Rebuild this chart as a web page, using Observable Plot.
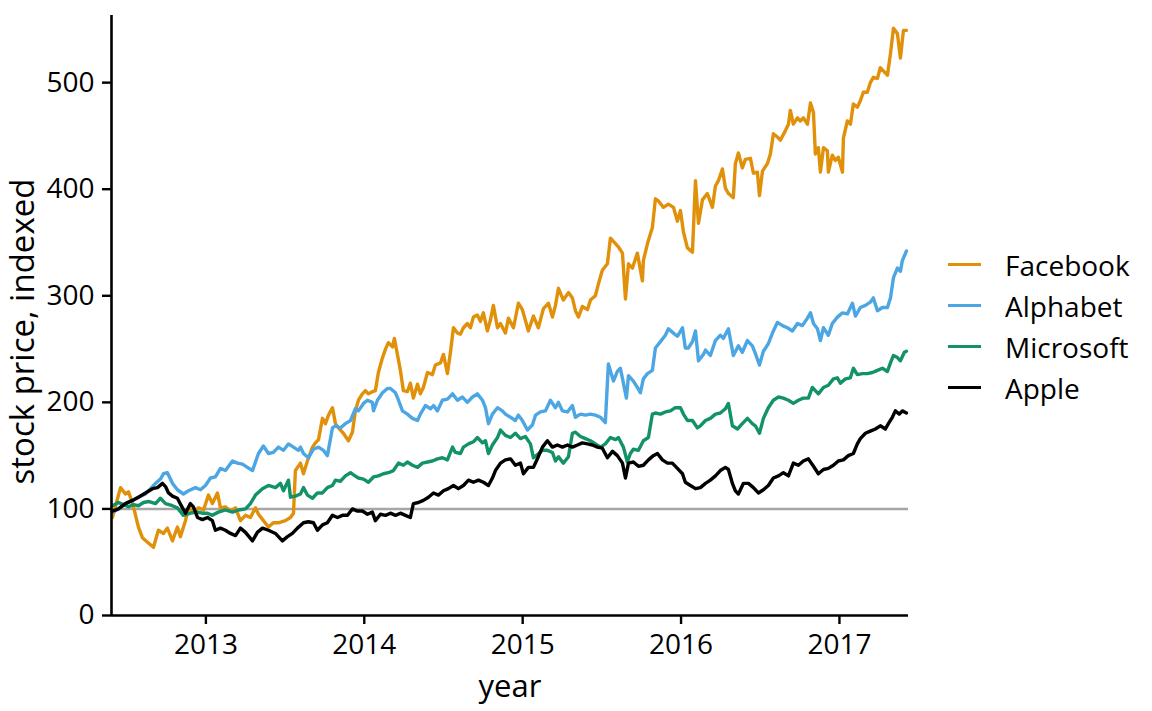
<!DOCTYPE html>
<html><head><meta charset="utf-8">
<script src="https://cdn.jsdelivr.net/npm/d3@7"></script>
<script src="https://cdn.jsdelivr.net/npm/@observablehq/plot@0.6"></script>
<style>
body{margin:0;background:#fff;}
#wrap{position:relative;width:1152px;height:711px;font-family:'Open Sans',sans-serif;background:#fff;}
#chart{position:absolute;left:0;top:0;}
#legend{position:absolute;left:948px;top:244px;}
.row{display:flex;align-items:center;height:41px;font-size:28px;color:#000;}
.sw{width:33px;height:3px;margin-right:24px;}
</style></head><body><div id="wrap"><div id="chart"></div><div id="legend"></div></div>
<script>
// categories and styling lookups
const companies = ["Facebook", "Alphabet", "Microsoft", "Apple"];
const colors = ["#E1900A", "#4CA6E3", "#13926A", "#000000"];
const xTicks = [2013, 2014, 2015, 2016, 2017];
const yTicks = [0, 100, 200, 300, 400, 500];
const xDomain = [2012.404, 2017.436];
const yDomain = [0, 563];
const indexBase = 100;

// series values: [decimal year, indexed price]
const facebook = [[2012.410,92],[2012.461,120],[2012.492,114],[2012.511,116],[2012.536,106],[2012.574,83],[2012.599,73],[2012.637,68],[2012.669,64],[2012.700,80],[2012.732,77],[2012.757,82],[2012.789,70],[2012.820,83],[2012.839,74],[2012.871,89],[2012.890,101],[2012.921,97],[2012.953,101],[2012.985,99],[2013.016,113],[2013.041,105],[2013.073,115],[2013.092,101],[2013.123,102],[2013.155,98],[2013.187,101],[2013.218,89],[2013.250,94],[2013.281,92],[2013.313,101],[2013.332,95],[2013.363,89],[2013.395,83],[2013.426,87],[2013.458,87],[2013.502,89],[2013.534,92],[2013.553,96],[2013.565,136],[2013.584,140],[2013.597,143],[2013.616,133],[2013.641,145],[2013.673,158],[2013.692,162],[2013.711,165],[2013.736,185],[2013.755,180],[2013.774,188],[2013.799,195],[2013.818,180],[2013.837,176],[2013.868,171],[2013.900,164],[2013.925,172],[2013.944,192],[2013.963,202],[2013.988,208],[2014.007,211],[2014.026,208],[2014.051,210],[2014.070,211],[2014.089,228],[2014.115,242],[2014.134,250],[2014.152,256],[2014.178,252],[2014.190,260],[2014.209,245],[2014.228,230],[2014.247,211],[2014.272,210],[2014.291,218],[2014.310,204],[2014.336,217],[2014.354,208],[2014.373,214],[2014.399,228],[2014.430,226],[2014.449,235],[2014.481,237],[2014.500,245],[2014.525,227],[2014.544,247],[2014.563,270],[2014.588,265],[2014.607,264],[2014.626,270],[2014.651,274],[2014.670,270],[2014.689,280],[2014.714,282],[2014.733,276],[2014.752,284],[2014.777,267],[2014.796,277],[2014.815,291],[2014.841,270],[2014.860,274],[2014.891,265],[2014.910,279],[2014.942,270],[2014.973,293],[2014.998,287],[2015.017,277],[2015.036,267],[2015.068,281],[2015.099,270],[2015.131,288],[2015.163,293],[2015.188,280],[2015.207,291],[2015.226,307],[2015.257,296],[2015.289,303],[2015.314,298],[2015.333,286],[2015.352,280],[2015.377,290],[2015.409,287],[2015.428,296],[2015.459,300],[2015.478,311],[2015.503,324],[2015.535,330],[2015.554,354],[2015.586,349],[2015.604,346],[2015.630,340],[2015.649,297],[2015.668,330],[2015.693,326],[2015.724,340],[2015.756,314],[2015.762,333],[2015.788,349],[2015.819,364],[2015.838,391],[2015.857,389],[2015.889,383],[2015.920,386],[2015.952,383],[2015.977,370],[2015.996,380],[2016.015,360],[2016.040,345],[2016.072,341],[2016.091,408],[2016.110,368],[2016.135,390],[2016.166,396],[2016.198,383],[2016.217,403],[2016.236,408],[2016.261,419],[2016.280,401],[2016.299,396],[2016.330,392],[2016.343,424],[2016.362,434],[2016.387,420],[2016.406,428],[2016.438,429],[2016.457,415],[2016.482,416],[2016.495,394],[2016.514,417],[2016.545,424],[2016.564,433],[2016.583,452],[2016.608,449],[2016.627,446],[2016.659,455],[2016.678,461],[2016.690,474],[2016.709,461],[2016.735,467],[2016.753,464],[2016.772,467],[2016.798,461],[2016.817,481],[2016.836,472],[2016.848,433],[2016.867,439],[2016.880,416],[2016.899,439],[2016.924,436],[2016.930,416],[2016.955,432],[2016.974,427],[2016.993,430],[2017.019,416],[2017.025,448],[2017.050,464],[2017.069,461],[2017.088,480],[2017.113,477],[2017.132,483],[2017.151,491],[2017.176,491],[2017.195,500],[2017.214,505],[2017.240,504],[2017.258,514],[2017.277,511],[2017.303,507],[2017.322,527],[2017.341,551],[2017.366,546],[2017.385,523],[2017.404,549],[2017.423,549]];

const alphabet = [[2012.410,97],[2012.448,100],[2012.492,105],[2012.536,108],[2012.574,111],[2012.618,114],[2012.637,117],[2012.682,124],[2012.713,128],[2012.732,133],[2012.757,134],[2012.789,124],[2012.820,118],[2012.858,114],[2012.890,117],[2012.934,120],[2012.966,118],[2012.997,122],[2013.029,129],[2013.060,130],[2013.092,138],[2013.123,136],[2013.168,145],[2013.199,143],[2013.231,142],[2013.262,139],[2013.294,136],[2013.332,152],[2013.363,159],[2013.395,152],[2013.426,153],[2013.458,158],[2013.490,155],[2013.521,161],[2013.553,158],[2013.584,155],[2013.597,158],[2013.616,152],[2013.647,148],[2013.679,156],[2013.711,158],[2013.742,155],[2013.767,150],[2013.799,176],[2013.818,178],[2013.849,176],[2013.881,180],[2013.913,183],[2013.944,194],[2013.963,192],[2013.995,199],[2014.020,202],[2014.051,200],[2014.058,192],[2014.083,202],[2014.115,209],[2014.146,213],[2014.165,213],[2014.197,209],[2014.216,202],[2014.241,192],[2014.272,189],[2014.304,185],[2014.336,183],[2014.354,189],[2014.386,197],[2014.418,194],[2014.437,197],[2014.462,192],[2014.493,202],[2014.525,203],[2014.557,208],[2014.588,202],[2014.620,205],[2014.651,200],[2014.683,205],[2014.714,208],[2014.746,202],[2014.765,195],[2014.784,180],[2014.809,189],[2014.841,195],[2014.872,192],[2014.891,189],[2014.923,186],[2014.954,183],[2014.973,188],[2014.998,183],[2015.030,174],[2015.062,179],[2015.081,188],[2015.112,191],[2015.144,192],[2015.175,202],[2015.207,195],[2015.226,200],[2015.251,192],[2015.283,191],[2015.314,197],[2015.333,186],[2015.365,189],[2015.396,188],[2015.428,189],[2015.459,188],[2015.491,186],[2015.522,181],[2015.541,236],[2015.573,220],[2015.598,229],[2015.617,232],[2015.636,218],[2015.655,204],[2015.668,225],[2015.699,220],[2015.724,214],[2015.743,209],[2015.762,222],[2015.788,227],[2015.819,230],[2015.838,251],[2015.870,257],[2015.901,263],[2015.920,269],[2015.952,265],[2015.977,262],[2016.009,270],[2016.027,251],[2016.046,251],[2016.072,257],[2016.091,267],[2016.110,239],[2016.141,245],[2016.154,249],[2016.185,244],[2016.217,258],[2016.248,263],[2016.267,260],[2016.299,269],[2016.330,244],[2016.362,253],[2016.387,247],[2016.419,258],[2016.450,253],[2016.469,246],[2016.495,235],[2016.520,248],[2016.551,255],[2016.577,265],[2016.608,275],[2016.640,272],[2016.671,270],[2016.703,267],[2016.735,274],[2016.766,272],[2016.798,279],[2016.817,284],[2016.836,274],[2016.861,269],[2016.880,258],[2016.899,270],[2016.930,263],[2016.955,274],[2016.987,280],[2017.019,284],[2017.050,283],[2017.082,293],[2017.101,281],[2017.132,289],[2017.164,291],[2017.195,294],[2017.214,298],[2017.240,286],[2017.271,289],[2017.303,289],[2017.322,298],[2017.341,317],[2017.366,326],[2017.385,323],[2017.397,333],[2017.423,342]];

const microsoft = [[2012.410,103],[2012.448,106],[2012.480,104],[2012.511,102],[2012.543,104],[2012.574,103],[2012.606,106],[2012.637,107],[2012.682,105],[2012.713,110],[2012.745,105],[2012.789,103],[2012.820,101],[2012.858,94],[2012.902,96],[2012.947,97],[2012.978,96],[2013.010,96],[2013.041,94],[2013.079,97],[2013.123,99],[2013.168,97],[2013.206,99],[2013.250,100],[2013.281,105],[2013.313,113],[2013.357,119],[2013.395,122],[2013.439,120],[2013.471,124],[2013.490,117],[2013.521,127],[2013.534,111],[2013.565,112],[2013.597,114],[2013.616,120],[2013.641,113],[2013.673,110],[2013.704,115],[2013.736,115],[2013.767,120],[2013.799,122],[2013.818,127],[2013.849,126],[2013.881,131],[2013.913,134],[2013.932,132],[2013.963,129],[2013.995,128],[2014.026,125],[2014.058,130],[2014.089,131],[2014.121,133],[2014.152,134],[2014.184,136],[2014.216,143],[2014.247,141],[2014.272,144],[2014.304,141],[2014.336,139],[2014.367,143],[2014.399,144],[2014.430,145],[2014.462,147],[2014.493,148],[2014.525,146],[2014.557,158],[2014.575,153],[2014.607,152],[2014.626,158],[2014.658,161],[2014.689,163],[2014.714,167],[2014.746,162],[2014.765,164],[2014.784,152],[2014.809,160],[2014.841,167],[2014.860,174],[2014.891,169],[2014.923,167],[2014.954,171],[2014.986,166],[2015.017,168],[2015.049,161],[2015.068,148],[2015.093,151],[2015.125,155],[2015.156,155],[2015.188,153],[2015.207,145],[2015.226,149],[2015.257,143],[2015.289,149],[2015.314,171],[2015.333,172],[2015.365,168],[2015.396,166],[2015.428,164],[2015.459,161],[2015.491,158],[2015.522,161],[2015.554,167],[2015.586,165],[2015.604,167],[2015.636,158],[2015.661,144],[2015.680,152],[2015.699,156],[2015.731,155],[2015.762,164],[2015.794,167],[2015.819,189],[2015.838,190],[2015.870,189],[2015.901,191],[2015.933,192],[2015.964,195],[2015.996,195],[2016.015,189],[2016.040,183],[2016.072,183],[2016.103,176],[2016.122,178],[2016.154,183],[2016.185,185],[2016.217,189],[2016.248,190],[2016.280,194],[2016.299,199],[2016.324,178],[2016.356,175],[2016.387,180],[2016.419,185],[2016.450,180],[2016.469,178],[2016.495,171],[2016.520,185],[2016.551,195],[2016.583,202],[2016.615,205],[2016.646,204],[2016.678,202],[2016.709,199],[2016.741,202],[2016.772,204],[2016.804,204],[2016.829,214],[2016.848,211],[2016.867,208],[2016.899,214],[2016.930,216],[2016.962,222],[2016.987,223],[2017.006,218],[2017.038,222],[2017.069,223],[2017.088,232],[2017.113,226],[2017.145,227],[2017.176,227],[2017.208,228],[2017.240,230],[2017.271,232],[2017.303,229],[2017.322,237],[2017.341,244],[2017.366,242],[2017.385,239],[2017.410,247],[2017.423,248]];

const apple = [[2012.410,98],[2012.448,100],[2012.492,105],[2012.536,108],[2012.574,111],[2012.618,115],[2012.663,119],[2012.694,120],[2012.726,124],[2012.745,121],[2012.764,115],[2012.789,112],[2012.820,110],[2012.852,101],[2012.871,96],[2012.902,105],[2012.921,102],[2012.947,92],[2012.978,90],[2013.010,92],[2013.041,89],[2013.060,80],[2013.092,82],[2013.123,80],[2013.155,77],[2013.187,75],[2013.218,82],[2013.250,78],[2013.294,70],[2013.325,78],[2013.357,82],[2013.395,80],[2013.439,77],[2013.483,70],[2013.515,74],[2013.546,77],[2013.578,82],[2013.616,87],[2013.647,88],[2013.679,87],[2013.704,80],[2013.736,85],[2013.767,87],[2013.799,94],[2013.831,92],[2013.862,94],[2013.894,94],[2013.925,100],[2013.957,98],[2013.988,98],[2014.020,95],[2014.051,97],[2014.070,89],[2014.102,95],[2014.134,94],[2014.165,96],[2014.197,94],[2014.228,96],[2014.260,94],[2014.291,92],[2014.310,105],[2014.342,106],[2014.373,108],[2014.405,111],[2014.437,115],[2014.468,113],[2014.500,117],[2014.531,119],[2014.563,122],[2014.594,119],[2014.626,122],[2014.658,127],[2014.689,125],[2014.721,127],[2014.752,125],[2014.784,122],[2014.809,129],[2014.828,136],[2014.860,143],[2014.891,146],[2014.923,147],[2014.954,141],[2014.986,143],[2015.005,133],[2015.036,139],[2015.068,139],[2015.093,147],[2015.125,158],[2015.156,164],[2015.188,158],[2015.219,160],[2015.251,158],[2015.283,160],[2015.314,158],[2015.346,160],[2015.377,162],[2015.409,161],[2015.440,160],[2015.472,158],[2015.503,157],[2015.535,148],[2015.567,154],[2015.598,150],[2015.630,143],[2015.649,129],[2015.668,143],[2015.699,144],[2015.731,140],[2015.762,141],[2015.794,146],[2015.825,150],[2015.851,152],[2015.882,146],[2015.914,143],[2015.945,143],[2015.977,138],[2016.009,133],[2016.027,125],[2016.059,122],[2016.091,119],[2016.122,120],[2016.154,124],[2016.185,127],[2016.217,131],[2016.248,136],[2016.280,139],[2016.299,137],[2016.324,124],[2016.343,117],[2016.362,114],[2016.394,124],[2016.425,124],[2016.457,120],[2016.488,115],[2016.520,118],[2016.551,122],[2016.583,129],[2016.615,131],[2016.646,134],[2016.678,131],[2016.709,143],[2016.741,141],[2016.772,145],[2016.804,147],[2016.836,140],[2016.867,133],[2016.899,137],[2016.930,138],[2016.962,141],[2016.993,145],[2017.025,146],[2017.056,150],[2017.088,152],[2017.113,161],[2017.132,166],[2017.164,171],[2017.195,173],[2017.227,175],[2017.258,178],[2017.290,175],[2017.309,180],[2017.334,186],[2017.353,192],[2017.378,189],[2017.397,192],[2017.423,190]];

const seriesByCompany = {Facebook: facebook, Alphabet: alphabet, Microsoft: microsoft, Apple: apple};
const rows = companies.flatMap(c => seriesByCompany[c].map(([year, value]) => ({company: c, year, value})));

const chart = Plot.plot({
  width: 925,
  height: 711,
  marginLeft: 111,
  marginRight: 17,
  marginTop: 15,
  marginBottom: 96,
  style: {fontFamily: "'Open Sans', sans-serif", fontSize: "28px", color: "#000", background: "#fff", overflow: "visible"},
  x: {domain: xDomain, label: null},
  y: {domain: yDomain, label: null},
  color: {domain: companies, range: colors},
  marks: [
    Plot.ruleY([indexBase], {stroke: "#a6a6a6", strokeWidth: 2.4}),
    Plot.line(rows, {x: "year", y: "value", z: "company", stroke: "company", strokeWidth: 3.4, strokeLinejoin: "round"}),
    Plot.ruleY([yDomain[0]], {stroke: "#000", strokeWidth: 2.6}),
    Plot.ruleX([xDomain[0]], {stroke: "#000", strokeWidth: 2.6}),
    Plot.axisX({ticks: xTicks, tickFormat: "d", tickSize: 9, tickPadding: 10, strokeWidth: 2.4, fontSize: 28, label: null}),
    Plot.axisY({ticks: yTicks, tickSize: 9, tickPadding: 8, strokeWidth: 2.4, fontSize: 28, label: null}),
    Plot.text(["year"], {frameAnchor: "bottom", dy: 72, fontSize: 31, lineAnchor: "middle"}),
    Plot.text(["stock price, indexed"], {frameAnchor: "left", textAnchor: "middle", rotate: -90, dx: -88, dy: 16, fontSize: 33, lineAnchor: "middle"})
  ]
});
document.getElementById("chart").appendChild(chart);

const legend = document.getElementById("legend");
companies.forEach((c, i) => {
  const row = document.createElement("div");
  row.className = "row";
  const sw = document.createElement("div");
  sw.className = "sw";
  sw.style.background = colors[i];
  const label = document.createElement("span");
  label.textContent = c;
  row.appendChild(sw);
  row.appendChild(label);
  legend.appendChild(row);
});
</script></body></html>
